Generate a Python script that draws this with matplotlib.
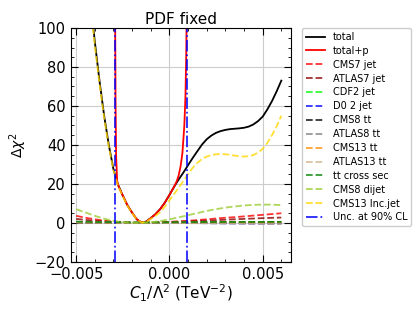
import numpy as np
import matplotlib
matplotlib.use("Agg")
import matplotlib.pyplot as plt
from matplotlib.ticker import MultipleLocator

# fine scan points for C1/Lambda^2 (TeV^-2), used by the large curves
c1_fine = [-0.00500, -0.00475, -0.00450, -0.00425, -0.00400, -0.00375, -0.00350, -0.00325,
           -0.00300, -0.00275, -0.00250, -0.00225, -0.00200, -0.00175, -0.00150, -0.00125,
           -0.00100, -0.00075, -0.00050, -0.00025, 0.00000, 0.00025, 0.00050, 0.00075,
           0.00100, 0.00125, 0.00150, 0.00175, 0.00200, 0.00225, 0.00250, 0.00275,
           0.00300, 0.00325, 0.00350, 0.00375, 0.00400, 0.00425, 0.00450, 0.00475,
           0.00500, 0.00525, 0.00550, 0.00575, 0.00600]

total = [200, 172, 142, 116, 93, 73, 55, 40,
         27.5, 19.5, 14, 9, 5.2, 1.8, 0.2, 0.6,
         2.4, 4.4, 7, 10.3, 14.3, 18.5, 22.3, 25.8,
         29.6, 33.3, 36.8, 40.2, 42.9, 44.8, 46.2, 47.1,
         47.7, 48.1, 48.3, 48.5, 48.8, 49.4, 50.5, 52.2,
         54.5, 58.2, 62.5, 67.5, 73]

cms13_incjet = [196, 169, 139, 114, 91, 71.5, 54, 39,
                27, 19, 13.6, 8.7, 5.0, 1.7, 0.15, 0.5,
                2.0, 3.5, 5.5, 8.2, 11.5, 14.8, 18, 21.5,
                25, 28.3, 30.8, 32.8, 34, 34.8, 35.2, 35.3,
                35.2, 34.9, 34.5, 34.2, 34, 34.2, 34.8, 36,
                38, 41, 45, 49.5, 55]

# total with penalty term
c1_p = [-0.00291, -0.00289, -0.00286, -0.00280, -0.00270, -0.00250, -0.00225, -0.00200,
        -0.00175, -0.00150, -0.00125, -0.00100, -0.00075, -0.00050, -0.00025, 0.00000,
        0.00025, 0.00040, 0.00050, 0.00060, 0.00070, 0.00080, 0.00086, 0.00090, 0.00093]
total_p = [110, 65, 35, 21, 18, 14, 9, 5.2,
           1.8, 0.2, 0.6, 2.4, 4.4, 7, 10.3, 14.3,
           18.5, 21.5, 24.5, 29, 36, 50, 65, 85, 110]

# coarse scan points, used by the small curves
c1 = [-0.0050, -0.0045, -0.0040, -0.0035, -0.0030, -0.0025, -0.0020, -0.0015,
      -0.0010, -0.0005, 0.0000, 0.0005, 0.0010, 0.0015, 0.0020, 0.0025,
      0.0030, 0.0035, 0.0040, 0.0045, 0.0050, 0.0055, 0.0060]

cms7_jet = [3.6, 2.6, 1.8, 1.1, 0.6, 0.3, 0.1, 0.0, 0.1, 0.3, 0.5, 0.8,
            1.0, 1.4, 1.8, 2.2, 2.6, 2.9, 3.3, 3.7, 4.1, 4.5, 4.9]
atlas7_jet = [2.0, 1.5, 1.1, 0.7, 0.4, 0.2, 0.05, 0.0, 0.05, 0.15, 0.3, 0.5,
              0.7, 0.9, 1.1, 1.35, 1.6, 1.8, 2.0, 2.2, 2.4, 2.55, 2.7]
cdf2_jet = [0.3, 0.25, 0.2, 0.15, 0.1, 0.05, 0.02, 0.0, 0.02, 0.05, 0.1, 0.15,
            0.2, 0.25, 0.3, 0.3, 0.35, 0.35, 0.4, 0.4, 0.4, 0.45, 0.45]
d0_jet = [0.1, 0.08, 0.06, 0.04, 0.02, 0.01, 0.0, 0.0, 0.0, -0.02, -0.05, -0.08,
          -0.1, -0.15, -0.2, -0.25, -0.3, -0.35, -0.4, -0.45, -0.5, -0.55, -0.6]
cms8_tt = [0.1, 0.08, 0.06, 0.05, 0.03, 0.02, 0.01, 0.0, 0.01, 0.02, 0.03, 0.05,
           0.06, 0.08, 0.1, 0.1, 0.12, 0.12, 0.14, 0.15, 0.16, 0.17, 0.18]
atlas8_tt = [0.3, 0.25, 0.2, 0.15, 0.1, 0.05, 0.02, 0.0, 0.02, 0.05, 0.08, 0.1,
             0.12, 0.15, 0.18, 0.2, 0.22, 0.24, 0.26, 0.28, 0.3, 0.3, 0.3]
cms13_tt = [0.2, 0.15, 0.12, 0.1, 0.06, 0.03, 0.01, 0.0, 0.01, 0.03, 0.05, 0.07,
            0.1, 0.12, 0.14, 0.16, 0.18, 0.2, 0.2, 0.22, 0.24, 0.25, 0.26]
atlas13_tt = [0.2, 0.15, 0.1, 0.08, 0.05, 0.02, 0.0, 0.0, 0.0, -0.02, -0.05, -0.1,
              -0.15, -0.2, -0.25, -0.3, -0.35, -0.4, -0.45, -0.5, -0.55, -0.6, -0.7]
tt_xsec = [0.6, 0.5, 0.4, 0.35, 0.3, 0.25, 0.2, 0.2, 0.2, 0.2, 0.25, 0.3,
           0.3, 0.35, 0.35, 0.4, 0.4, 0.4, 0.45, 0.45, 0.45, 0.5, 0.5]
cms8_dijet = [7.0, 5.3, 3.6, 2.1, 1.0, 0.4, 0.1, 0.0, 0.3, 0.9, 1.8, 2.8,
              3.9, 5.0, 6.1, 7.0, 7.8, 8.4, 8.9, 9.2, 9.35, 9.3, 9.1]

unc_90 = [-0.00292, 0.00094]

dashed = [
    ("CMS7 jet", c1, cms7_jet, "red"),
    ("ATLAS7 jet", c1, atlas7_jet, "darkred"),
    ("CDF2 jet", c1, cdf2_jet, "lime"),
    ("D0 2 jet", c1, d0_jet, "blue"),
    ("CMS8 tt", c1, cms8_tt, "black"),
    ("ATLAS8 tt", c1, atlas8_tt, "gray"),
    ("CMS13 tt", c1, cms13_tt, "darkorange"),
    ("ATLAS13 tt", c1, atlas13_tt, "tan"),
    ("tt cross sec", c1, tt_xsec, "green"),
    ("CMS8 dijet", c1, cms8_dijet, "yellowgreen"),
    ("CMS13 Inc.jet", c1_fine, cms13_incjet, "gold"),
]

fig = plt.figure(figsize=(4.2, 3.15), dpi=100)
ax = fig.add_axes([0.168, 0.169, 0.524, 0.742])

ax.plot(c1_fine, total, color="black", lw=1.3, label="total")
ax.plot(c1_p, total_p, color="red", lw=1.3, label="total+p")
for name, xs, vals, col in dashed:
    ax.plot(xs, vals, color=col, ls="--", lw=1.3, alpha=0.8, label=name)
for i, u in enumerate(unc_90):
    ax.axvline(u, color="blue", ls="-.", lw=1.3, alpha=0.85,
               label="Unc. at 90% CL" if i == 0 else None)

ax.set_xlim(-0.0053, 0.0065)
ax.set_ylim(-20, 100)
ax.xaxis.set_major_locator(MultipleLocator(0.005))
ax.xaxis.set_minor_locator(MultipleLocator(0.001))
ax.yaxis.set_major_locator(MultipleLocator(20))
ax.yaxis.set_minor_locator(MultipleLocator(5))
ax.tick_params(which="both", direction="in", top=True, right=True, labelsize=10.5)
ax.tick_params(which="major", length=5)
ax.tick_params(which="minor", length=2.5)
ax.grid(True, which="major", color="#cccccc", lw=0.8)
ax.set_axisbelow(True)

ax.set_title("PDF fixed", fontsize=11, pad=3)
ax.set_xlabel(r"$C_1/\Lambda^2$ (TeV$^{-2}$)", fontsize=11, labelpad=1)
ax.set_ylabel(r"$\Delta\chi^2$", fontsize=10)

ax.legend(loc="upper left", bbox_to_anchor=(1.05, 1.0), fontsize=7,
          labelspacing=0.4, borderaxespad=0.0, handlelength=2.0,
          framealpha=1.0, edgecolor="#cccccc")

fig.savefig("out.png", dpi=100)
